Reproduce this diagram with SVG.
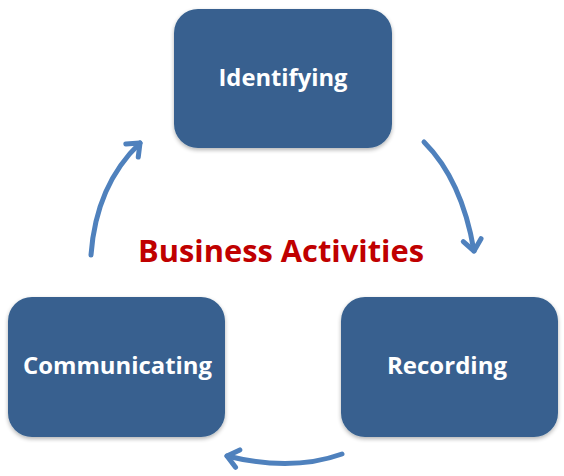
<svg xmlns="http://www.w3.org/2000/svg" width="564" height="476" viewBox="0 0 564 476">
<style>
.box{fill:#37618F;filter:url(#sh)}
.lbl{font-family:"Open Sans","Liberation Sans",sans-serif;font-weight:bold;font-size:24px;fill:#FFFFFF;text-anchor:middle}
.arr{fill:none;stroke:#4F81BD;stroke-width:5;stroke-linecap:round;marker-end:url(#ah)}
.title{font-family:"Open Sans","Liberation Sans",sans-serif;font-weight:bold;font-size:31px;fill:#C00000}
</style>
<defs>
<filter id="sh" x="-10%" y="-10%" width="120%" height="125%">
<feGaussianBlur in="SourceAlpha" stdDeviation="2"/>
<feOffset dx="0" dy="2" result="b"/>
<feComponentTransfer><feFuncA type="linear" slope="0.3"/></feComponentTransfer>
<feMerge><feMergeNode/><feMergeNode in="SourceGraphic"/></feMerge>
</filter>
<marker id="ah" markerUnits="userSpaceOnUse" markerWidth="30" markerHeight="30" viewBox="-15 -15 30 30" refX="0" refY="0" orient="auto">
<path d="M-11,-9 L0,0 L-11,9" fill="none" stroke="#4F81BD" stroke-width="5" stroke-linecap="round" stroke-linejoin="round"/>
</marker>
</defs>
<g id="connectors">
<path class="arr" d="M424,142 Q462,180 474,251"/>
<path class="arr" d="M342,454 Q292,472 227,456"/>
<path class="arr" d="M91,255 Q96,185 140,143"/>
</g>
<g id="identifying">
<rect class="box" x="174" y="9" width="218" height="139" rx="24"/>
<text class="lbl" x="283" y="86" textLength="129" lengthAdjust="spacingAndGlyphs">Identifying</text>
</g>
<g id="recording">
<rect class="box" x="341" y="297" width="217" height="140" rx="24"/>
<text class="lbl" x="447" y="374" textLength="120" lengthAdjust="spacingAndGlyphs">Recording</text>
</g>
<g id="communicating">
<rect class="box" x="8" y="297" width="217" height="140" rx="24"/>
<text class="lbl" x="117.5" y="374" textLength="189" lengthAdjust="spacingAndGlyphs">Communicating</text>
</g>
<g id="title">
<text class="title" x="138" y="262" textLength="286" lengthAdjust="spacingAndGlyphs">Business Activities</text>
</g>
</svg>
